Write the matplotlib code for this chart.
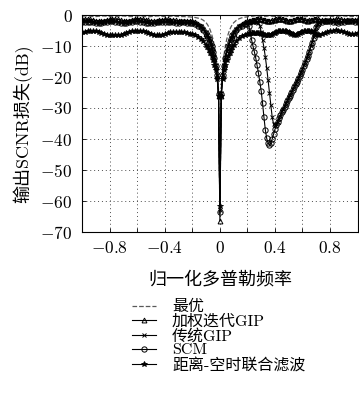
import numpy as np
import matplotlib
matplotlib.use("Agg")
import matplotlib.pyplot as plt

plt.rcParams['font.family'] = ['cmr10', 'Noto Sans CJK SC']
plt.rcParams['mathtext.fontset'] = 'cm'
plt.rcParams['axes.unicode_minus'] = True

# 归一化多普勒频率 (采样网格)
doppler = np.round(np.concatenate([
    np.arange(-1.0, -0.11, 0.02),
    np.arange(-0.10, 0.105, 0.01),
    np.arange(0.12, 0.205, 0.02),
    np.arange(0.21, 0.725, 0.01),
    np.arange(0.74, 1.005, 0.02),
]), 2)

# 输出SCNR损失 (dB)
optimal = [
    -0.4, -0.3, -0.3, -0.4, -0.5, -0.5, -0.4, -0.3, -0.3, -0.4,
    -0.5, -0.6, -0.5, -0.4, -0.3, -0.3, -0.4, -0.5, -0.5, -0.4,
    -0.3, -0.3, -0.4, -0.5, -0.6, -0.5, -0.4, -0.3, -0.3, -0.4,
    -0.5, -0.5, -0.4, -0.3, -0.4, -0.5, -0.5, -0.5, -0.6, -0.6,
    -0.7, -0.8, -1.0, -1.2, -1.7,
    -2.5, -3.1, -3.9, -4.9, -6.2, -7.8, -9.9, -12.8, -17.0, -24.0, -64.0,
    -24.0, -17.0, -12.8, -9.9, -7.8, -6.2, -4.9, -3.9, -3.1, -2.5,
    -1.7, -1.2, -0.9, -0.7, -0.6,
    -0.5, -0.5, -0.4, -0.4, -0.3, -0.3, -0.3, -0.4, -0.4, -0.5,
    -0.5, -0.5, -0.4, -0.4, -0.3, -0.3, -0.3, -0.4, -0.4, -0.5,
    -0.5, -0.6, -0.5, -0.5, -0.4, -0.3, -0.3, -0.3, -0.4, -0.4,
    -0.5, -0.5, -0.5, -0.4, -0.4, -0.3, -0.3, -0.3, -0.4, -0.5,
    -0.5, -0.6, -0.5, -0.4, -0.4, -0.3, -0.3, -0.4, -0.4, -0.5,
    -0.5, -0.4,
    -0.4, -0.3, -0.3, -0.4, -0.5, -0.5, -0.4, -0.3, -0.3, -0.4, -0.5, -0.5, -0.4, -0.3,
]

weighted_gip = [
    -1.4, -1.3, -1.3, -1.4, -1.6, -1.8, -1.9, -1.9, -1.8, -1.6,
    -1.4, -1.3, -1.3, -1.4, -1.6, -1.8, -1.9, -1.8, -1.6, -1.4,
    -1.3, -1.2, -1.3, -1.5, -1.7, -1.9, -2.0, -1.9, -1.7, -1.5,
    -1.4, -1.4, -1.5, -1.6, -1.7, -1.8, -1.8, -1.8, -1.8, -1.9,
    -2.0, -2.4, -2.9, -3.6, -4.6,
    -6.0, -6.9, -7.9, -9.1, -10.5, -12.2, -14.3, -16.8, -19.8, -26.0, -66.5,
    -26.0, -19.8, -16.8, -14.3, -12.2, -10.5, -9.1, -7.9, -6.9, -6.0,
    -4.6, -3.6, -2.9, -2.4, -2.0,
    -1.9, -1.8, -1.7, -1.6, -1.5, -1.4, -1.4, -1.3, -1.3, -1.4,
    -1.5, -1.6, -1.7, -1.8, -1.9, -1.9, -1.8, -1.7, -1.6, -1.5,
    -1.4, -1.3, -1.2, -1.2, -1.3, -1.4, -1.5, -1.7, -1.8, -1.9,
    -1.9, -1.8, -1.7, -1.5, -1.4, -1.3, -1.2, -1.2, -1.3, -1.4,
    -1.6, -1.7, -1.8, -1.8, -1.7, -1.6, -1.5, -1.4, -1.3, -1.3,
    -1.4, -1.5,
    -1.6, -1.7, -1.8, -1.7, -1.5, -1.3, -1.2, -1.3, -1.5, -1.7, -1.8, -1.7, -1.5, -1.4,
]

classic_gip = [
    -1.9, -1.8, -1.8, -1.9, -2.1, -2.3, -2.4, -2.3, -2.1, -1.9,
    -1.8, -1.8, -1.9, -2.1, -2.3, -2.4, -2.3, -2.1, -1.9, -1.7,
    -1.7, -1.8, -2.0, -2.2, -2.4, -2.5, -2.4, -2.2, -2.0, -1.9,
    -1.9, -2.0, -2.1, -2.2, -2.3, -2.3, -2.2, -2.2, -2.2, -2.3,
    -2.4, -2.7, -3.1, -3.7, -4.5,
    -5.6, -6.4, -7.4, -8.5, -9.9, -11.6, -13.6, -16.1, -19.2, -25.0, -63.0,
    -25.0, -19.2, -16.1, -13.6, -11.6, -9.9, -8.5, -7.4, -6.4, -5.6,
    -4.5, -3.7, -3.1, -2.7, -2.4,
    -2.3, -2.2, -2.2, -2.1, -2.1, -2.2, -2.3, -2.6, -3.4, -5.5,
    -8.0, -10.5, -13.5, -17.0, -21.0, -25.0, -29.0, -33.0, -35.2, -35.4,
    -35.1, -34.4, -33.5, -32.5,
    -31.1, -30.2, -29.3, -28.4, -27.5, -26.6, -25.7, -24.8, -23.9, -23.0,
    -22.1, -21.2, -20.3, -19.3, -18.3, -17.3, -16.2, -15.1, -14.0, -12.8,
    -11.5, -10.1, -8.6, -7.0, -5.3, -3.8, -2.8, -2.3,
    -2.0, -1.8, -1.7, -1.8, -2.0, -2.2, -2.3, -2.2, -2.0, -1.8, -1.7, -1.8, -2.0, -2.1,
]

scm = [
    -2.2, -2.1, -2.1, -2.2, -2.4, -2.6, -2.6, -2.5, -2.3, -2.1,
    -2.0, -2.0, -2.1, -2.3, -2.5, -2.6, -2.5, -2.3, -2.1, -2.0,
    -2.0, -2.1, -2.3, -2.5, -2.7, -2.7, -2.6, -2.4, -2.2, -2.1,
    -2.1, -2.2, -2.3, -2.4, -2.5, -2.5, -2.4, -2.4, -2.5, -2.6,
    -2.7, -3.0, -3.4, -4.0, -4.8,
    -5.8, -6.6, -7.6, -8.7, -10.1, -11.8, -13.8, -16.3, -19.4, -25.5, -63.5,
    -25.5, -19.4, -16.3, -13.8, -11.8, -10.1, -8.7, -7.6, -6.6, -5.8,
    -4.8, -4.0, -3.4, -3.0, -2.8,
    -3.5, -5.5, -8.0, -10.0, -11.8, -13.8, -16.2, -18.7, -21.5, -24.5,
    -28.5, -33.0, -37.0, -39.8, -41.3, -41.9, -41.4, -40.0, -38.4, -36.9,
    -35.6, -34.4, -33.3, -32.3, -31.4, -30.5, -29.6, -28.7, -27.8, -26.9,
    -26.0, -25.1, -24.2, -23.3, -22.4, -21.5, -20.6, -19.6, -18.6, -17.6,
    -16.5, -15.4, -14.3, -13.1, -11.8, -10.4, -8.9, -7.3, -5.6, -4.0,
    -2.9, -2.4,
    -2.2, -2.0, -1.9, -2.0, -2.2, -2.4, -2.5, -2.4, -2.2, -2.0, -1.9, -2.0, -2.2, -2.3,
]

range_st = [
    -5.6, -5.5, -5.3, -5.2, -5.1, -5.2, -5.4, -5.7, -6.0, -6.3,
    -6.5, -6.6, -6.6, -6.5, -6.3, -6.0, -5.7, -5.5, -5.3, -5.2,
    -5.1, -5.1, -5.2, -5.4, -5.7, -6.0, -6.3, -6.4, -6.4, -6.3,
    -6.1, -5.8, -5.6, -5.5, -5.4, -5.4, -5.5, -5.6, -5.8, -6.0,
    -6.2, -6.5, -7.0, -7.6, -8.5,
    -9.7, -10.4, -11.2, -12.1, -13.2, -14.5, -16.0, -17.9, -20.5, -26.0, -61.5,
    -26.0, -20.5, -17.9, -16.0, -14.5, -13.2, -12.1, -11.2, -10.4, -9.7,
    -8.5, -7.5, -6.9, -6.4, -6.1,
    -6.0, -5.9, -5.8, -5.8, -5.7, -5.7, -5.7, -5.8, -5.9, -6.0,
    -6.1, -6.3, -6.4, -6.5, -6.5, -6.4, -6.3, -6.1, -5.9, -5.7,
    -5.5, -5.3, -5.2, -5.1, -5.0, -5.0, -5.1, -5.2, -5.4, -5.6,
    -5.8, -6.0, -6.2, -6.3, -6.3, -6.2, -6.0, -5.8, -5.6, -5.4,
    -5.2, -5.1, -5.0, -5.0, -5.1, -5.3, -5.5, -5.8, -6.0, -6.2,
    -6.3, -6.3,
    -6.1, -5.8, -5.5, -5.2, -5.0, -4.9, -5.0, -5.2, -5.5, -5.8, -6.0, -6.1, -6.0, -5.8,
]

labels = ['最优', '加权迭代GIP', '传统GIP', 'SCM', '距离-空时联合滤波']

fig = plt.figure(figsize=(3.59, 4.0), dpi=100)
ax = fig.add_axes([0.229, 0.42, 0.767, 0.5425])

ax.plot(doppler, optimal, '--', color='0.35', lw=0.9, label=labels[0])
ax.plot(doppler, weighted_gip, '-', color='k', lw=0.8, marker='^', ms=3.5,
        mfc='none', mew=0.7, label=labels[1])
ax.plot(doppler, classic_gip, '-', color='k', lw=0.8, marker='x', ms=2.5,
        mew=0.7, label=labels[2])
ax.plot(doppler, scm, '-', color='k', lw=0.8, marker='o', ms=3.8,
        mfc='none', mew=0.7, label=labels[3])
ax.plot(doppler, range_st, '-', color='k', lw=0.8, marker='*', ms=3.8,
        mew=0.6, label=labels[4])

ax.set_xlim(-1, 1)
ax.set_ylim(-70, 0)
xt = [-0.8, -0.6, -0.4, -0.2, 0, 0.2, 0.4, 0.6, 0.8]
ax.set_xticks(xt)
ax.set_xticklabels(['$-0.8$', '', '$-0.4$', '', '$0$', '', '$0.4$', '', '$0.8$'])
yt = [0, -10, -20, -30, -40, -50, -60, -70]
ax.set_yticks(yt)
ax.set_yticklabels(['$%d$' % v if v == 0 else '$-%d$' % -v for v in yt])
ax.tick_params(direction='in', top=True, right=True, labelsize=12.5, length=3, width=0.6)
ax.tick_params(axis='x', pad=6)
ax.tick_params(axis='y', pad=7)
ax.grid(True, linestyle=(0, (1, 3)), color='0.3', lw=0.7)
for s in ax.spines.values():
    s.set_linewidth(0.8)

ax.set_xlabel('归一化多普勒频率', fontsize=13, labelpad=10)
ax.set_ylabel('输出SCNR损失(dB)', fontsize=13, labelpad=5)

fig.legend(loc='upper left', bbox_to_anchor=(0.368, 0.25), frameon=False,
           fontsize=11.5, labelspacing=0.0, handlelength=1.5, handletextpad=1.0,
           borderpad=0, borderaxespad=0, numpoints=1)

fig.savefig('out.png', dpi=100)
